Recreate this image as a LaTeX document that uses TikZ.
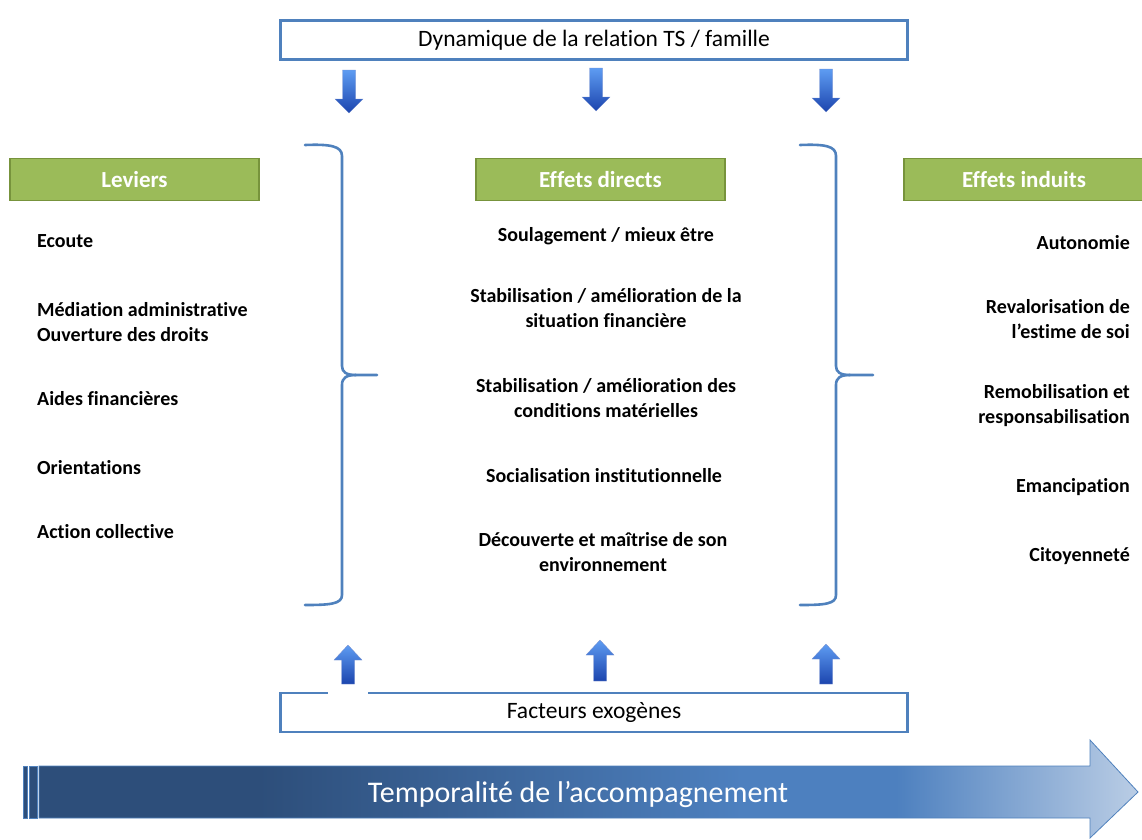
\documentclass[tikz,border=0pt]{standalone}
\usepackage{fontspec}
\setmainfont{Carlito}[Ligatures=NoCommon]
\definecolor{boxblue}{HTML}{4F81BD}
\definecolor{gfill}{HTML}{9BBB59}
\definecolor{gline}{HTML}{77933C}
\definecolor{arlight}{HTML}{5E9CF2}
\definecolor{ardark}{HTML}{1C45AE}
\definecolor{bdark}{HTML}{2D4E7A}
\definecolor{bmid}{HTML}{4D80BF}
\definecolor{blight}{HTML}{BACDE5}
\pgfdeclarehorizontalshading{timeshade}{100bp}{color(0bp)=(bdark); color(25bp)=(bdark); color(35bp)=(bdark); color(57bp)=(bmid); color(64bp)=(bmid); color(75bp)=(blight); color(100bp)=(blight)}
\tikzset{
  framebox/.style={draw=boxblue, line width=2.2pt, fill=white, minimum width=627pt, minimum height=39pt, inner sep=0pt, font=\fontsize{23.5}{28}\selectfont},
  header/.style={draw=gline, line width=1.8pt, fill=gfill, minimum height=42pt, inner sep=0pt, text=white, font=\fontsize{23}{28}\selectfont\bfseries},
  item/.style={font=\fontsize{20}{25}\selectfont\bfseries, inner sep=0pt},
  brace/.style={draw=boxblue, line width=2.6pt, line cap=round, line join=round},
  blockarrow/.style={top color=arlight, bottom color=ardark, draw=ardark!60, line width=0.3pt},
}
% down arrow: #1 x centre, #2 y top, #3 y tip
\newcommand\DownBlock[3]{%
  \path[blockarrow] (#1-6.5,#2) -- (#1+6.5,#2) -- (#1+6.5,#3-14) -- (#1+14,#3-14) -- (#1,#3)
    -- (#1-14,#3-14) -- (#1-6.5,#3-14) -- cycle;}
% up arrow: #1 x centre, #2 y tip, #3 y bottom
\newcommand\UpBlock[3]{%
  \path[blockarrow] (#1-6.5,#3) -- (#1+6.5,#3) -- (#1+6.5,#2+15) -- (#1+14,#2+15) -- (#1,#2)
    -- (#1-14,#2+15) -- (#1-6.5,#2+15) -- cycle;}
\begin{document}
\begin{tikzpicture}[x=1pt,y=-1pt]
\useasboundingbox (0,0) rectangle (1142,839);
% top and bottom frames
\node[framebox] (dyn) at (594,40) {Dynamique de la relation TS / famille};
\node[framebox] (fact) at (594,712.5) {Facteurs exogènes};
\draw[white, line width=3pt] (328,692) -- (368,692);
% down arrows
\DownBlock{349}{70}{113}
\DownBlock{596}{68}{111}
\DownBlock{826}{69}{112}
% up arrows
\UpBlock{348}{645}{684}
\UpBlock{600}{640}{681}
\UpBlock{826}{644}{684}
% headers
\node[header, minimum width=249pt] (lev) at (134.5,179.5) {Leviers};
\node[header, minimum width=249pt] (dir) at (600.5,179.5) {Effets directs};
\node[header, minimum width=240pt] (ind) at (1024,179.5) {Effets induits};
% left column
\node[item, anchor=west] (l1) at (37,241) {Ecoute};
\node[item, anchor=west, align=left] (l2) at (37,322.5) {Médiation administrative\\Ouverture des droits};
\node[item, anchor=west] (l3) at (37,399) {Aides financières};
\node[item, anchor=west] (l4) at (37,468) {Orientations};
\node[item, anchor=west] (l5) at (37,532) {Action collective};
% middle column
\node[item] (m1) at (606,236) {Soulagement / mieux être};
\node[item, align=center] (m2) at (606,308.5) {Stabilisation / amélioration de la\\situation financière};
\node[item, align=center] (m3) at (606,398.5) {Stabilisation / amélioration des\\conditions matérielles};
\node[item] (m4) at (604,476) {Socialisation institutionnelle};
\node[item, align=center] (m5) at (603,552.5) {Découverte et maîtrise de son\\environnement};
% right column
\node[item, anchor=east] (r1) at (1130,243) {Autonomie};
\node[item, anchor=east, align=right] (r2) at (1130,319.5) {Revalorisation de\\l’estime de soi};
\node[item, anchor=east, align=right] (r3) at (1130,405.5) {Remobilisation et\\responsabilisation};
\node[item, anchor=east] (r4) at (1130,487) {Emancipation};
\node[item, anchor=east] (r5) at (1130,556) {Citoyenneté};
% braces
\draw[brace] (305,145) .. controls (330,144) and (342,146) .. (342,156) -- (342,366)
  .. controls (342,372) and (346,375) .. (356,375) -- (377,375);
\draw[brace] (356,375) .. controls (346,375) and (342,378) .. (342,385) -- (342,595)
  .. controls (342,604) and (330,605) .. (305,605);
\draw[brace] (800,145) .. controls (825,144) and (836,146) .. (836,156) -- (836,366)
  .. controls (836,372) and (840,375) .. (850,375) -- (873,375);
\draw[brace] (850,375) .. controls (840,375) and (836,378) .. (836,385) -- (836,595)
  .. controls (836,604) and (825,605) .. (800,605);
% time arrow
\fill[bdark] (23,766) rectangle (27,818);
\draw[boxblue, line width=0.8pt] (23,766) rectangle (27,818);
\fill[bdark] (29.5,766) rectangle (37,818);
\draw[boxblue, line width=0.8pt] (29.5,766) rectangle (37,818);
\path[shading=timeshade, draw=boxblue, line width=0.8pt] (39,766) -- (1090,766) -- (1090,740) -- (1138,792)
  -- (1090,838) -- (1090,818) -- (39,818) -- cycle;
\node[text=white, font=\fontsize{30}{36}\selectfont] (timelbl) at (578,794) {Temporalité de l’accompagnement};
\end{tikzpicture}
\end{document}
